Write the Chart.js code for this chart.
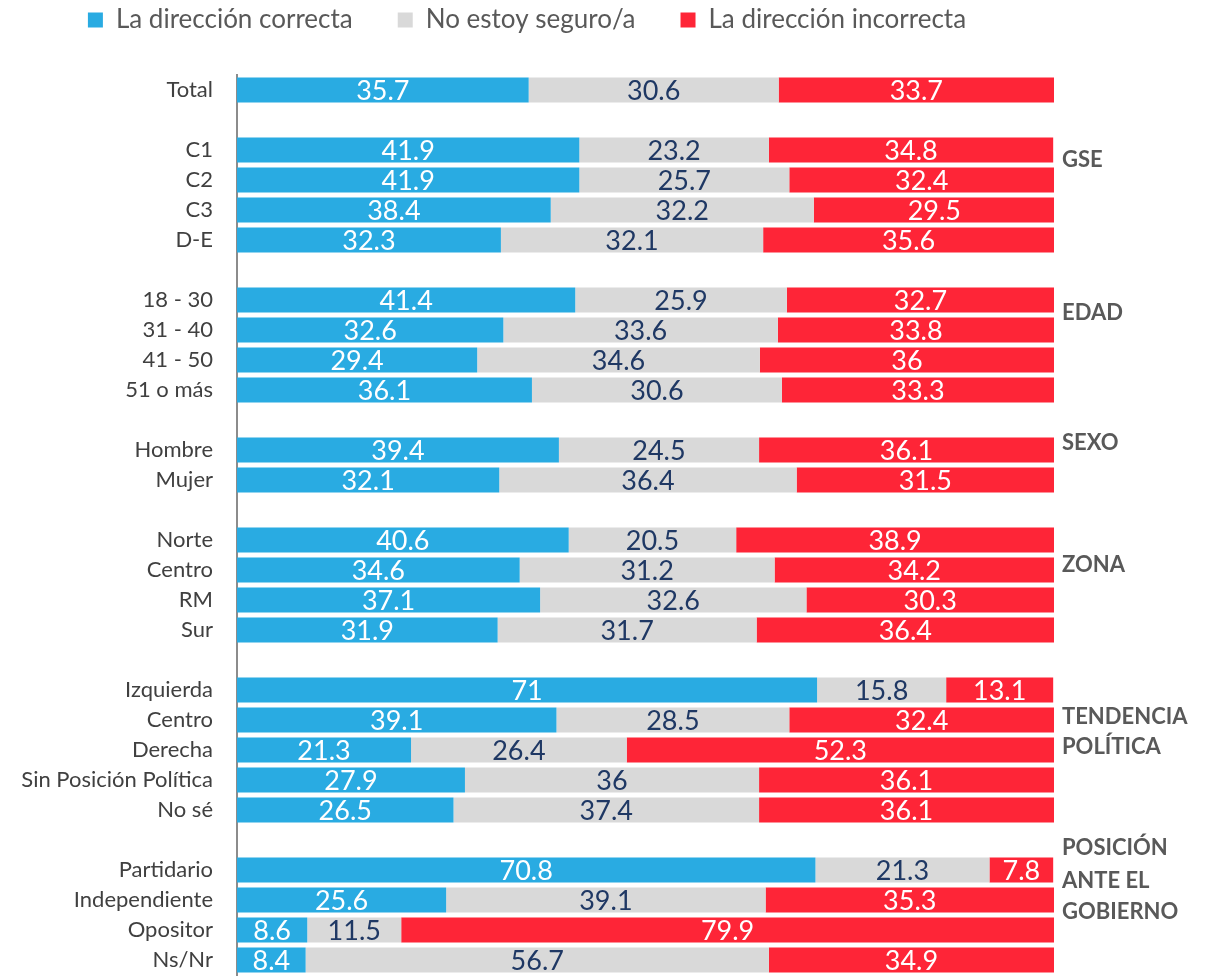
<!DOCTYPE html>
<html>
  <head>
    <title>Dirección del país</title>
    <style>
      body { margin: 0; background: #fff; }
    </style>
  </head>
  <body>
    <canvas id="dirChart" width="1217" height="976"></canvas>

    <script src="https://cdn.jsdelivr.net/npm/chart.js@4/dist/chart.umd.min.js"></script>
    <script>
      // filas del gráfico, "" = fila vacía de separación
      var categories = [
        "Total", "",
        "C1", "C2", "C3", "D-E", "",
        "18 - 30", "31 - 40", "41 - 50", "51 o más", "",
        "Hombre", "Mujer", "",
        "Norte", "Centro", "RM", "Sur", "",
        "Izquierda", "Centro", "Derecha", "Sin Posición Política", "No sé", "",
        "Partidario", "Independiente", "Opositor", "Ns/Nr"
      ];
      var correcta = [
        35.7, null,
        41.9, 41.9, 38.4, 32.3, null,
        41.4, 32.6, 29.4, 36.1, null,
        39.4, 32.1, null,
        40.6, 34.6, 37.1, 31.9, null,
        71, 39.1, 21.3, 27.9, 26.5, null,
        70.8, 25.6, 8.6, 8.4
      ];
      var noSeguro = [
        30.6, null,
        23.2, 25.7, 32.2, 32.1, null,
        25.9, 33.6, 34.6, 30.6, null,
        24.5, 36.4, null,
        20.5, 31.2, 32.6, 31.7, null,
        15.8, 28.5, 26.4, 36, 37.4, null,
        21.3, 39.1, 11.5, 56.7
      ];
      var incorrecta = [
        33.7, null,
        34.8, 32.4, 29.5, 35.6, null,
        32.7, 33.8, 36, 33.3, null,
        36.1, 31.5, null,
        38.9, 34.2, 30.3, 36.4, null,
        13.1, 32.4, 52.3, 36.1, 36.1, null,
        7.8, 35.3, 79.9, 34.9
      ];
      var seriesNames = ["La dirección correcta", "No estoy seguro/a", "La dirección incorrecta"];
      // títulos de grupo a la derecha (fila = posición en el eje de categorías)
      var groupLines = [
        { text: "GSE", row: 2.33 },
        { text: "EDAD", row: 7.43 },
        { text: "SEXO", row: 11.77 },
        { text: "ZONA", row: 15.83 },
        { text: "TENDENCIA", row: 20.9 },
        { text: "POLÍTICA", row: 21.9 },
        { text: "POSICIÓN", row: 25.27 },
        { text: "ANTE EL", row: 26.37 },
        { text: "GOBIERNO", row: 27.4 }
      ];

      var FONT = "Lato";

      var valueLabels = {
        id: "valueLabels",
        afterDatasetsDraw: function (chart) {
          var ctx = chart.ctx;
          ctx.save();
          ctx.font = "27px " + FONT;
          ctx.textAlign = "center";
          ctx.textBaseline = "middle";
          chart.data.datasets.forEach(function (ds, di) {
            var meta = chart.getDatasetMeta(di);
            meta.data.forEach(function (bar, i) {
              var v = ds.data[i];
              if (v === null) return;
              ctx.fillStyle = ds.labelColor;
              ctx.fillText(String(v), (bar.x + bar.base) / 2, bar.y + 1);
            });
          });
          ctx.restore();
        }
      };

      var groupTitles = {
        id: "groupTitles",
        afterDraw: function (chart) {
          var ctx = chart.ctx;
          var y = chart.scales.y;
          ctx.save();
          ctx.font = "bold 22px " + FONT;
          ctx.fillStyle = "#595959";
          ctx.textAlign = "left";
          ctx.textBaseline = "middle";
          groupLines.forEach(function (g) {
            ctx.fillText(g.text, chart.chartArea.right + 8, y.getPixelForValue(g.row));
          });
          ctx.restore();
        }
      };

      // deja espacio entre la leyenda y las barras
      var legendGap = {
        id: "legendGap",
        beforeInit: function (chart) {
          var fit = chart.legend.fit;
          chart.legend.fit = function () {
            fit.bind(chart.legend)();
            this.height = 75;
          };
        },
        afterLayout: function (chart) {
          chart.legend.top = -38;
        }
      };

      new Chart(document.getElementById("dirChart").getContext("2d"), {
        type: "bar",
        data: {
          labels: categories,
          datasets: [
            { label: seriesNames[0], data: correcta, backgroundColor: "#29abe2", labelColor: "#ffffff" },
            { label: seriesNames[1], data: noSeguro, backgroundColor: "#d9d9d9", labelColor: "#1f3864" },
            { label: seriesNames[2], data: incorrecta, backgroundColor: "#fe2537", labelColor: "#ffffff" }
          ]
        },
        options: {
          responsive: false,
          animation: false,
          indexAxis: "y",
          layout: { padding: { left: 0, right: 163, top: 0, bottom: 1 } },
          datasets: {
            bar: { barPercentage: 0.83, categoryPercentage: 1 }
          },
          scales: {
            x: { stacked: true, min: 0, max: 100, display: false },
            y: {
              stacked: true,
              grid: { display: false, drawTicks: false },
              border: { display: true, color: "#8c8c8c", width: 2 },
              afterFit: function (scale) {
                scale.width = 237;
                scale.paddingTop = 0;
                scale.paddingBottom = 0;
              },
              ticks: {
                autoSkip: false,
                padding: 24,
                color: "#404040",
                font: { family: FONT, size: 22 }
              }
            }
          },
          plugins: {
            legend: {
              position: "top",
              align: "center",
              labels: {
                boxWidth: 15,
                boxHeight: 15,
                padding: 45,
                color: "#595959",
                font: { family: FONT, size: 26 }
              }
            },
            tooltip: { enabled: false }
          }
        },
        plugins: [valueLabels, groupTitles, legendGap]
      });
    </script>
  </body>
</html>
